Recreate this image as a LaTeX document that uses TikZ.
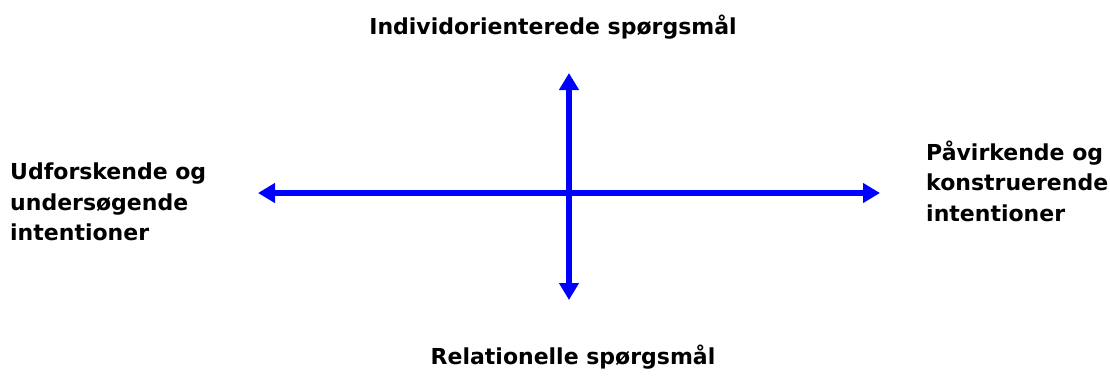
\documentclass[tikz,border=0pt]{standalone}
\usepackage{fontspec}
\setmainfont{DejaVu Sans}
\usetikzlibrary{arrows.meta}
\begin{document}
\begin{tikzpicture}[x=1pt,y=-1pt,
  axis/.style={draw={rgb,255:red,0;green,0;blue,255},line width=5.5pt,{Triangle[length=17pt,width=19pt]}-{Triangle[length=17pt,width=19pt]}},
  lbl/.style={font=\bfseries\fontsize{22}{30.5}\selectfont,inner sep=0pt}]
\useasboundingbox (0,0) rectangle (1110,376);
\coordinate (L) at (258,193);
\coordinate (R) at (880,193);
\coordinate (T) at (569,73);
\coordinate (B) at (569,300);
\draw[axis] (L) -- (R);
\draw[axis] (T) -- (B);
\node[lbl] (top) at (553,27) {Individorienterede spørgsmål};
\node[lbl] (bot) at (573,357) {Relationelle spørgsmål};
\node[lbl,align=left,anchor=west] (left) at (10,202) {Udforskende og\\undersøgende\\intentioner};
\node[lbl,align=left,anchor=west] (right) at (926,181) {Påvirkende og\\konstruerende\\intentioner};
\end{tikzpicture}
\end{document}
